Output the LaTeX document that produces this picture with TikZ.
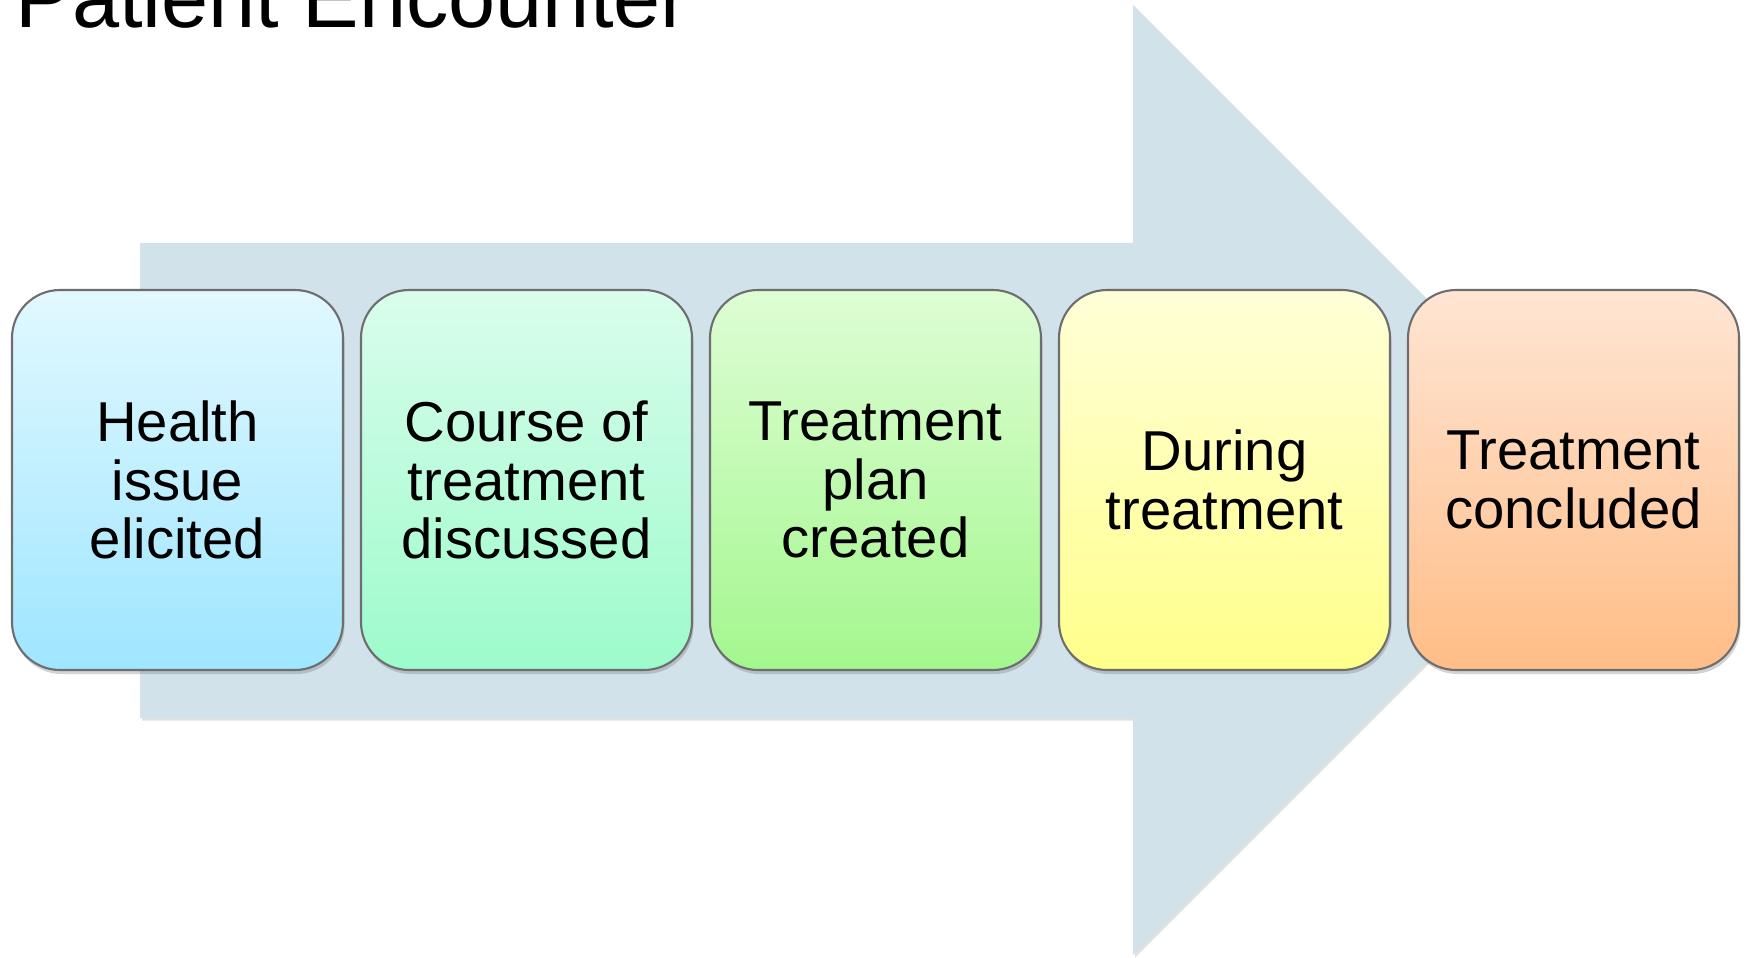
\documentclass[tikz,border=0pt]{standalone}
\usepackage{fontspec}
\setmainfont{Liberation Sans}
\usetikzlibrary{positioning,shadows}
\definecolor{encFlecha}{HTML}{D1E2EA}
\definecolor{encBorde}{HTML}{6E6E6E}
\definecolor{azulA}{HTML}{E2F8FF}
\definecolor{azulB}{HTML}{9EE6FF}
\definecolor{mentaA}{HTML}{DAFDEC}
\definecolor{mentaB}{HTML}{9CFBCB}
\definecolor{verdeA}{HTML}{DEFDD4}
\definecolor{verdeB}{HTML}{A3F78E}
\definecolor{amarA}{HTML}{FFFFD8}
\definecolor{amarB}{HTML}{FFFF8A}
\definecolor{narA}{HTML}{FFE5D4}
\definecolor{narB}{HTML}{FFBD87}
\tikzset{
  etapa/.style={rectangle, rounded corners=0.48cm, draw=encBorde, line width=0.6pt,
    minimum width=3.31cm, minimum height=3.80cm, align=center,
    font=\fontsize{16}{16.6}\selectfont,
    drop shadow={shadow xshift=0.015cm, shadow yshift=-0.04cm, opacity=0.35}},
  titulo/.style={anchor=base west, inner sep=0pt, font=\fontsize{24.1}{26}\selectfont},
}

\begin{document}
\begin{tikzpicture}
    \useasboundingbox (0,0) rectangle (17.47,9.57);
    % big background arrow
    \fill[black, opacity=0.12, xshift=0.02cm, yshift=-0.025cm]
      (1.40,7.14) -- (11.33,7.14) -- (11.33,9.52) -- (16.08,4.77)
      -- (11.33,0.02) -- (11.33,2.39) -- (1.40,2.39) -- cycle;
    \fill[encFlecha]
      (1.40,7.14) -- (11.33,7.14) -- (11.33,9.52) -- (16.08,4.77)
      -- (11.33,0.02) -- (11.33,2.39) -- (1.40,2.39) -- cycle;

    \node[titulo] (title) at (0.15,9.30) {Patient Encounter};

    \node[etapa, top color=azulA, bottom color=azulB]   (issue)  at (1.775,4.77)  {Health\\issue\\elicited};
    \node[etapa, top color=mentaA, bottom color=mentaB] (course) at (5.265,4.77)  {Course of\\treatment\\discussed};
    \node[etapa, top color=verdeA, bottom color=verdeB] (plan)   at (8.755,4.77)  {Treatment\\plan\\created};
    \node[etapa, top color=amarA, bottom color=amarB]   (during) at (12.245,4.77) {During\\treatment};
    \node[etapa, top color=narA, bottom color=narB]     (done)   at (15.735,4.77) {Treatment\\concluded};
  \end{tikzpicture}
\end{document}
